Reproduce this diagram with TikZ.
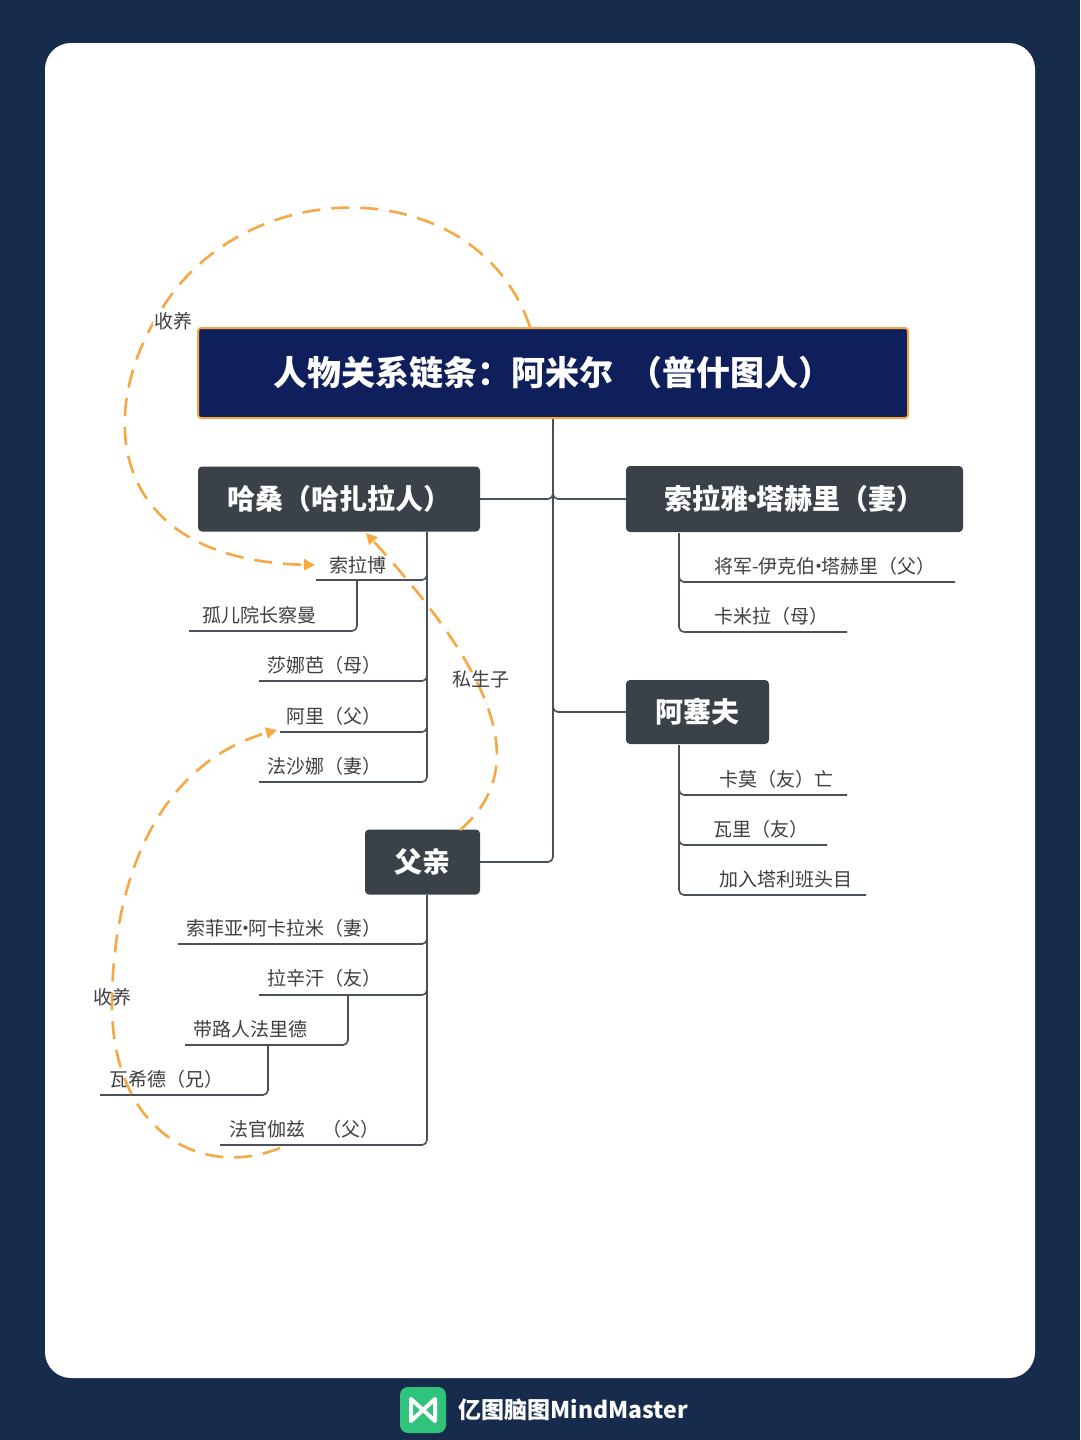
\documentclass[tikz,border=0pt]{standalone}
\usepackage{fontspec}
\setmainfont{Noto Sans CJK SC}
\usetikzlibrary{arrows.meta}
\definecolor{navy}{HTML}{172B4D}
\definecolor{titlebg}{HTML}{0E1F5B}
\definecolor{boxbg}{HTML}{3B4149}
\definecolor{lineg}{HTML}{4A5058}
\definecolor{orng}{HTML}{F5A843}
\definecolor{txt}{HTML}{404040}
\definecolor{logog}{HTML}{2FC37C}
\newcommand{\mdt}{\kern-0.35em·\kern-0.35em}
\begin{document}
\begin{tikzpicture}[x=1pt,y=-1pt,
  mainbox/.style={fill=boxbg,rounded corners=4pt,text=white,font=\fontsize{28}{28}\selectfont\bfseries},
  leaf/.style={text=txt,font=\fontsize{19}{19}\selectfont,inner sep=0pt},
  conn/.style={draw=lineg,line width=1.6pt,rounded corners=5pt},
  dsh/.style={draw=orng,line width=2.6pt,dash pattern=on 18pt off 11pt},
  lab/.style={text=txt,font=\fontsize{19}{19}\selectfont,inner sep=1pt}]
\useasboundingbox (0,0) rectangle (1080,1440);
\fill[navy] (0,0) rectangle (1080,1440);
\fill[white,rounded corners=26pt] (45,43) rectangle (1035,1378);
% logo
\node[fill=logog,rounded corners=8pt,minimum size=46pt] (logo) at (423,1410) {};
\draw[white,line width=4pt,line join=round,line cap=round] (411,1399) -- (411,1421) -- (435,1399) -- (435,1421) -- cycle;
\node[anchor=west,text=white,font=\fontsize{23}{23}\selectfont\bfseries] (brand) at (455,1410) {亿图脑图MindMaster};
% title
\node[draw=orng,line width=2pt,fill=titlebg,rounded corners=3pt,minimum width=710pt,minimum height=90pt,text=white,font=\fontsize{34}{34}\selectfont\bfseries] (title) at (553,373) {人物关系链条：阿米尔\ \ （普什图人）};
% main boxes
\node[mainbox,minimum width=282pt,minimum height=65pt] (hs) at (339,499) {哈桑（哈扎拉人）};
\node[mainbox,minimum width=337pt,minimum height=66pt] (sl) at (794.5,499) {索拉雅\mdt 塔赫里（妻）};
\node[mainbox,minimum width=143pt,minimum height=64pt] (as) at (697.5,712) {阿塞夫};
\node[mainbox,minimum width=115pt,minimum height=65pt] (fq) at (422.5,862) {父亲};
% trunk
\draw[conn] (title.south) -- (553,862) -- (fq.east);
\draw[conn] (553,480) -- (553,499) -- (hs.east);
\draw[conn] (553,480) -- (553,499) -- (sl.west);
\draw[conn] (553,690) -- (553,712) -- (as.west);
% Hassan children
\node[leaf] (h1) at (358,565) {索拉博};
\node[leaf] (h2) at (259,615) {孤儿院长察曼};
\node[leaf] (h3) at (324,665) {莎娜芭（母）};
\node[leaf] (h4) at (334,716) {阿里（父）};
\node[leaf] (h5) at (324,766) {法沙娜（妻）};
\draw[conn] (427,532) -- (427,580) -- (316,580);
\draw[conn] (357,580) -- (357,631) -- (189,631);
\draw[conn] (427,570) -- (427,681) -- (259,681);
\draw[conn] (427,670) -- (427,732) -- (280,732);
\draw[conn] (427,720) -- (427,782) -- (259,782);
% Soraya children
\node[leaf] (s1) at (825,566) {将军-伊克伯\mdt 塔赫里（父）};
\node[leaf] (s2) at (771,616) {卡米拉（母）};
\draw[conn] (679,533) -- (679,582) -- (955,582);
\draw[conn] (679,570) -- (679,632) -- (847,632);
% Assef children
\node[leaf] (a1) at (776,779) {卡莫（友）亡};
\node[leaf] (a2) at (761,829) {瓦里（友）};
\node[leaf] (a3) at (786,879) {加入塔利班头目};
\draw[conn] (679,745) -- (679,795) -- (847,795);
\draw[conn] (679,780) -- (679,845) -- (827,845);
\draw[conn] (679,830) -- (679,895) -- (866,895);
% father children
\node[leaf] (f1) at (284,928) {索菲亚\mdt 阿卡拉米（妻）};
\node[leaf] (f2) at (324,978) {拉辛汗（友）};
\node[leaf] (f3) at (250,1029) {带路人法里德};
\node[leaf] (f4) at (166,1079) {瓦希德（兄）};
\node[leaf] (f5) at (305,1129) {法官伽兹\ \ \ \ （父）};
\draw[conn] (427,895) -- (427,944) -- (178,944);
\draw[conn] (427,930) -- (427,995) -- (259,995);
\draw[conn] (348,995) -- (348,1045) -- (185,1045);
\draw[conn] (268,1045) -- (268,1095) -- (100,1095);
\draw[conn] (427,980) -- (427,1145) -- (220,1145);
% dashed relations
\coordinate (c1s) at (530,327);
\coordinate (c1e) at (315,565);
\draw[dsh,-{Triangle[length=11pt,width=11pt]}] (c1s) .. controls (480,180) and (270,170) .. (175,290) .. controls (90,400) and (100,560) .. (c1e);
\node[lab,fill=white] (l1) at (173,321) {收养};
\coordinate (c2s) at (460,830);
\coordinate (c2e) at (366,533);
\draw[dsh,-{Triangle[length=11pt,width=11pt]}] (c2s) .. controls (530,770) and (500,680) .. (c2e);
\node[lab] (l2) at (481,679) {私生子};
\coordinate (c3s) at (280,1148);
\coordinate (c3e) at (277,730);
\draw[dsh,-{Triangle[length=11pt,width=11pt]}] (c3s) .. controls (200,1180) and (110,1130) .. (112,1000) .. controls (114,860) and (170,760) .. (c3e);
\node[lab] (l3) at (112,997) {收养};
\end{tikzpicture}
\end{document}
